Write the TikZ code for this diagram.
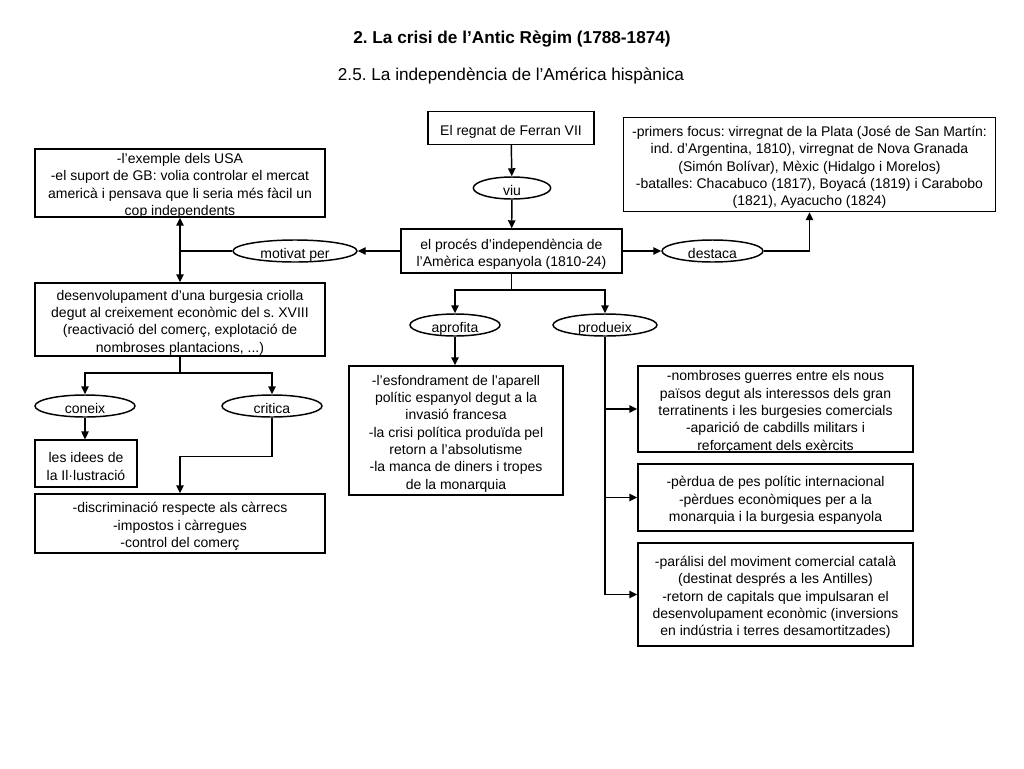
\documentclass[tikz,border=0pt]{standalone}
\usepackage{fontspec}
\setmainfont{Liberation Sans}
\usetikzlibrary{arrows.meta,shapes.geometric}
\frenchspacing

\begin{document}
\begin{tikzpicture}[x=0.75pt, y=-0.75pt, >={Triangle[length=6pt,width=5.5pt]}, line width=1.1pt,
  txt/.style={font=\fontsize{10.5}{13}\selectfont, execute at begin node={\rule{0pt}{11pt}}, text depth=0.5pt},
  box/.style={draw, align=center, inner sep=0pt, txt},
  verb/.style={draw, ellipse, inner sep=0pt, minimum height=16.5pt, txt},
  mbox/.style={draw, inner sep=0pt},
  mtext/.style={align=center, inner sep=0pt, yshift=-2.25pt, font=\fontsize{10.5}{13}\selectfont}]
\useasboundingbox (0,0) rectangle (1024,768);
% titles
\node[font=\bfseries\fontsize{12.9}{15}\selectfont] (title) at (512,39) {2. La crisi de l’Antic Règim (1788-1874)};
\node[font=\fontsize{12.9}{15}\selectfont] (subtitle) at (511,76) {2.5. La independència de l’América hispànica};
% central column
\node[box, minimum width=124.5pt, minimum height=24.5pt] (ferran) at (511,128) {El regnat de Ferran VII};
\node[verb, minimum width=58pt] (viu) at (512,188) {viu};
\node[mbox, minimum width=165.75pt, minimum height=33pt, label={[mtext]center:{el procés d’independència de\\l’Amèrica espanyola (1810-24)}}] (proces) at (511.5,251) {};
\node[verb, minimum width=93pt] (motivat) at (295,251) {motivat per};
\node[verb, minimum width=75.75pt] (destaca) at (712.5,251) {destaca};
\node[mbox, minimum width=217.5pt, minimum height=51pt, label={[mtext]center:{-l’exemple dels USA\\-el suport de GB: volia controlar el mercat\\americà i pensava que li seria més fàcil un\\cop independents}}] (usa) at (180,183) {};
\node[mbox, minimum width=279pt, minimum height=70.5pt, label={[mtext]center:{-primers focus: virregnat de la Plata (José de San Martín:\\ind. d’Argentina, 1810), virregnat de Nova Granada\\(Simón Bolívar), Mèxic (Hidalgo i Morelos)\\-batalles: Chacabuco (1817), Boyacá (1819) i Carabobo\\(1821), Ayacucho (1824)}}] (focus) at (809.5,164.5) {};
% left branch
\node[mbox, minimum width=217.5pt, minimum height=54.75pt, label={[mtext]center:{desenvolupament d’una burgesia criolla\\degut al creixement econòmic del s. XVIII\\(reactivació del comerç, explotació de\\nombroses plantacions, ...)}}] (burgesia) at (180,319.5) {};
\node[verb, minimum width=75pt] (coneix) at (85,406) {coneix};
\node[verb, minimum width=75pt] (critica) at (272,406) {critica};
\node[mbox, minimum width=76.5pt, minimum height=35pt, label={[mtext]center:{les idees de\\la Il·lustració}}] (idees) at (86,463.5) {};
\node[mbox, minimum width=217.5pt, minimum height=44.25pt, label={[mtext]center:{-discriminació respecte als càrrecs\\-impostos i càrregues\\-control del comerç}}] (discrim) at (180,523.5) {};
% lower branch
\node[verb, minimum width=67.5pt] (aprofita) at (455,325) {aprofita};
\node[verb, minimum width=78pt] (produeix) at (605,325) {produeix};
\node[mbox, minimum width=160.5pt, minimum height=96.75pt, label={[mtext]center:{-l’esfondrament de l’aparell\\polític espanyol degut a la\\invasió francesa\\-la crisi política produïda pel\\retorn a l’absolutisme\\-la manca de diners i tropes\\de la monarquia}}] (esfon) at (456,430.5) {};
\node[mbox, minimum width=206.25pt, minimum height=64.5pt, label={[mtext]center:{-nombroses guerres entre els nous\\països degut als interessos dels gran\\terratinents i les burgesies comercials\\-aparició de cabdills militars i\\reforçament dels exèrcits}}] (guerres) at (775.5,409) {};
\node[mbox, minimum width=206.25pt, minimum height=50.25pt, label={[mtext]center:{-pèrdua de pes polític internacional\\-pèrdues econòmiques per a la\\monarquia i la burgesia espanyola}}] (perdua) at (775.5,497.5) {};
\node[mbox, minimum width=206.25pt, minimum height=77.25pt, label={[mtext]center:{-parálisi del moviment comercial català\\(destinat després a les Antilles)\\-retorn de capitals que impulsaran el\\desenvolupament econòmic (inversions\\en indústria i terres desamortitzades)}}] (paralisi) at (775.5,594.5) {};
% connectors
\draw[->] (ferran) -- (viu);
\draw[->] (viu) -- (proces);
\draw[->] (proces.west) -- (motivat.east);
\coordinate (mjoin) at (usa.south |- motivat.west);
\draw (motivat.west) -- (mjoin);
\draw[->] (mjoin) -- (usa.south);
\draw[->] (mjoin) -- (burgesia.north);
\draw[->] (proces.east) -- (destaca.west);
\draw[->] (destaca.east) -| (focus.south);
\coordinate (bsplit) at (180,373);
\draw (burgesia.south) -- (bsplit);
\draw[->] (bsplit) -| (coneix.north);
\draw[->] (bsplit) -| (critica.north);
\draw[->] (coneix.south) -- (coneix.south |- idees.north);
\draw[->] (critica.south) -- ++(0,39) -| (discrim.north);
\coordinate (psplit) at (511.5,290);
\draw (proces.south) -- (psplit);
\draw[->] (psplit) -| (aprofita.north);
\draw[->] (psplit) -| (produeix.north);
\draw[->] (aprofita.south) -- (aprofita.south |- esfon.north);
\draw (produeix.south) -- (produeix.south |- paralisi.west);
\draw[->] (produeix.south |- guerres.west) -- (guerres.west);
\draw[->] (produeix.south |- perdua.west) -- (perdua.west);
\draw[->] (produeix.south |- paralisi.west) -- (paralisi.west);
\end{tikzpicture}
\end{document}
